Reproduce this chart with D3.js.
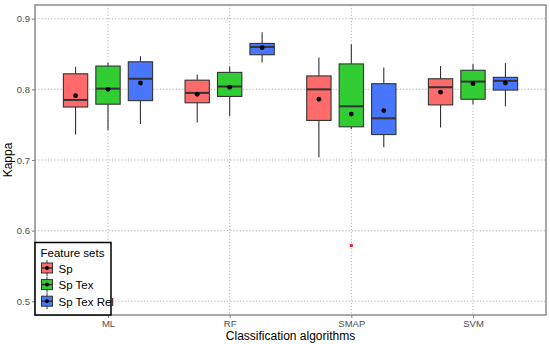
<!DOCTYPE html>
<html>
<head>
<meta charset="utf-8">
<script src="https://cdn.jsdelivr.net/npm/d3@7"></script>
<style>
	body { margin: 0; background: #fff; }
	svg { display: block; font-family: "Liberation Sans", Arial, sans-serif; }
	.grid line { stroke: #b3b3b3; stroke-dasharray: 1.2,2; stroke-width: 1; }
	.axis text { fill: #4d4d4d; font-size: 9.5px; }
	.axis line { stroke: #7f7f7f; }
	.axis path { display: none; }
</style>
</head>
<body>
<div id="chart"></div>
<script>
var algorithms = ['ML', 'RF', 'SMAP', 'SVM'];
var featureSets = ['Sp', 'Sp Tex', 'Sp Tex Rel'];
var colors = ['#FF6A6A', '#32CD32', '#4876FF'];
var yTicks = [0.5, 0.6, 0.7, 0.8, 0.9];

// [lower whisker, q1, median, q3, upper whisker, mean] per algorithm
var spStats = [
	[0.736, 0.775, 0.785, 0.822, 0.832, 0.791],
	[0.753, 0.781, 0.795, 0.813, 0.821, 0.793],
	[0.704, 0.756, 0.800, 0.819, 0.845, 0.786],
	[0.746, 0.778, 0.803, 0.815, 0.833, 0.796]
];
var spTexStats = [
	[0.742, 0.779, 0.801, 0.833, 0.838, 0.800],
	[0.762, 0.790, 0.804, 0.824, 0.832, 0.803],
	[0.744, 0.747, 0.776, 0.836, 0.864, 0.765],
	[0.779, 0.786, 0.811, 0.827, 0.836, 0.808]
];
var spTexRelStats = [
	[0.751, 0.784, 0.815, 0.839, 0.847, 0.809],
	[0.838, 0.849, 0.860, 0.865, 0.881, 0.859],
	[0.718, 0.736, 0.759, 0.808, 0.831, 0.770],
	[0.776, 0.799, 0.812, 0.817, 0.837, 0.809]
];
// outliers: [algorithm, feature set, value]
var outliers = [['SMAP', 'Sp Tex', 0.579]];

var allStats = [spStats, spTexStats, spTexRelStats];

var fullWidth = 550, fullHeight = 344;
var margin = { top: 5, right: 4, bottom: 29, left: 35 };
var width = fullWidth - margin.left - margin.right;
var height = fullHeight - margin.top - margin.bottom;

var svg = d3.select('#chart').append('svg')
	.attr('width', fullWidth)
	.attr('height', fullHeight);

var x = d3.scalePoint()
	.domain(algorithms)
	.range([0, width])
	.padding(0.6);
var step = x.step();

var dodge = d3.scaleBand()
	.domain(featureSets)
	.range([-0.4 * step, 0.4 * step]);
var boxW = dodge.bandwidth() * 0.75;

var y = d3.scaleLinear()
	.domain([0.4806, 0.9194])
	.range([height, 0]);

var g = svg.append('g')
	.attr('transform', 'translate(' + margin.left + ',' + margin.top + ')');

//grid
var grid = g.append('g').attr('class', 'grid');
grid.selectAll('.gy').data(yTicks).enter().append('line')
	.attr('x1', 0).attr('x2', width)
	.attr('y1', function(d) { return y(d); })
	.attr('y2', function(d) { return y(d); });
grid.selectAll('.gx').data(algorithms).enter().append('line')
	.attr('y1', 0).attr('y2', height)
	.attr('x1', function(d) { return x(d); })
	.attr('x2', function(d) { return x(d); });

//boxes
featureSets.forEach(function(fs, i) {
	var stats = allStats[i];
	var grp = g.append('g').attr('class', 'boxes');
	algorithms.forEach(function(alg, j) {
		var s = stats[j];
		var cx = x(alg) + dodge(fs) + dodge.bandwidth() / 2;
		var b = grp.append('g');
		b.append('line')
			.attr('x1', cx).attr('x2', cx)
			.attr('y1', y(s[0])).attr('y2', y(s[4]))
			.attr('stroke', '#333').attr('stroke-width', 1.1);
		b.append('rect')
			.attr('x', cx - boxW / 2)
			.attr('width', boxW)
			.attr('y', y(s[3]))
			.attr('height', y(s[1]) - y(s[3]))
			.attr('fill', colors[i])
			.attr('stroke', '#333')
			.attr('stroke-width', 1.1);
		b.append('line')
			.attr('x1', cx - boxW / 2).attr('x2', cx + boxW / 2)
			.attr('y1', y(s[2])).attr('y2', y(s[2]))
			.attr('stroke', '#333').attr('stroke-width', 2);
		b.append('circle')
			.attr('cx', cx).attr('cy', y(s[5]))
			.attr('r', 2.4)
			.attr('fill', '#000');
	});
});

g.selectAll('.outlier').data(outliers).enter().append('rect')
	.attr('class', 'outlier')
	.attr('x', function(d) { return x(d[0]) + dodge(d[1]) + dodge.bandwidth() / 2 - 1.5; })
	.attr('y', function(d) { return y(d[2]) - 1.5; })
	.attr('width', 3).attr('height', 3)
	.attr('fill', '#e8252a');

//panel border
g.append('rect')
	.attr('width', width).attr('height', height)
	.attr('fill', 'none')
	.attr('stroke', '#8c8c8c')
	.attr('stroke-width', 1.5);

//axes
g.append('g')
	.attr('class', 'axis')
	.call(d3.axisLeft(y).tickValues(yTicks).tickSize(3).tickPadding(2).tickFormat(d3.format('.1f')));
g.append('g')
	.attr('class', 'axis')
	.attr('transform', 'translate(0,' + height + ')')
	.call(d3.axisBottom(x).tickSize(3).tickPadding(2));

svg.append('text')
	.attr('x', margin.left + width / 2)
	.attr('y', 340)
	.attr('text-anchor', 'middle')
	.attr('font-size', '12px')
	.attr('fill', '#000')
	.text('Classification algorithms');
svg.append('text')
	.attr('transform', 'translate(12,' + (margin.top + height / 2) + ') rotate(-90)')
	.attr('text-anchor', 'middle')
	.attr('font-size', '12px')
	.attr('fill', '#000')
	.text('Kappa');

//legend
var legend = g.append('g')
	.attr('transform', 'translate(0,' + (height - 72.5) + ')');
legend.append('rect')
	.attr('width', 76).attr('height', 72.5)
	.attr('fill', '#fff')
	.attr('stroke', '#000')
	.attr('stroke-width', 1.5);
legend.append('text')
	.attr('x', 5.5).attr('y', 14.5)
	.attr('font-size', '11.5px')
	.attr('fill', '#000')
	.text('Feature sets');
var item = legend.selectAll('.item').data(featureSets).enter().append('g')
	.attr('transform', function(d, i) { return 'translate(0,' + (25.5 + i * 16.6) + ')'; });
item.append('line')
	.attr('x1', 12).attr('x2', 12)
	.attr('y1', -8).attr('y2', 8)
	.attr('stroke', '#333');
item.append('rect')
	.attr('x', 6.5).attr('y', -5)
	.attr('width', 11).attr('height', 10)
	.attr('fill', function(d, i) { return colors[i]; })
	.attr('stroke', '#333');
item.append('line')
	.attr('x1', 6.5).attr('x2', 17.5)
	.attr('stroke', '#333').attr('stroke-width', 1.5);
item.append('circle')
	.attr('cx', 12).attr('r', 2)
	.attr('fill', '#000');
item.append('text')
	.attr('x', 23.5).attr('y', 4.5)
	.attr('font-size', '11.5px')
	.attr('fill', '#000')
	.text(function(d) { return d; });
</script>
</body>
</html>
